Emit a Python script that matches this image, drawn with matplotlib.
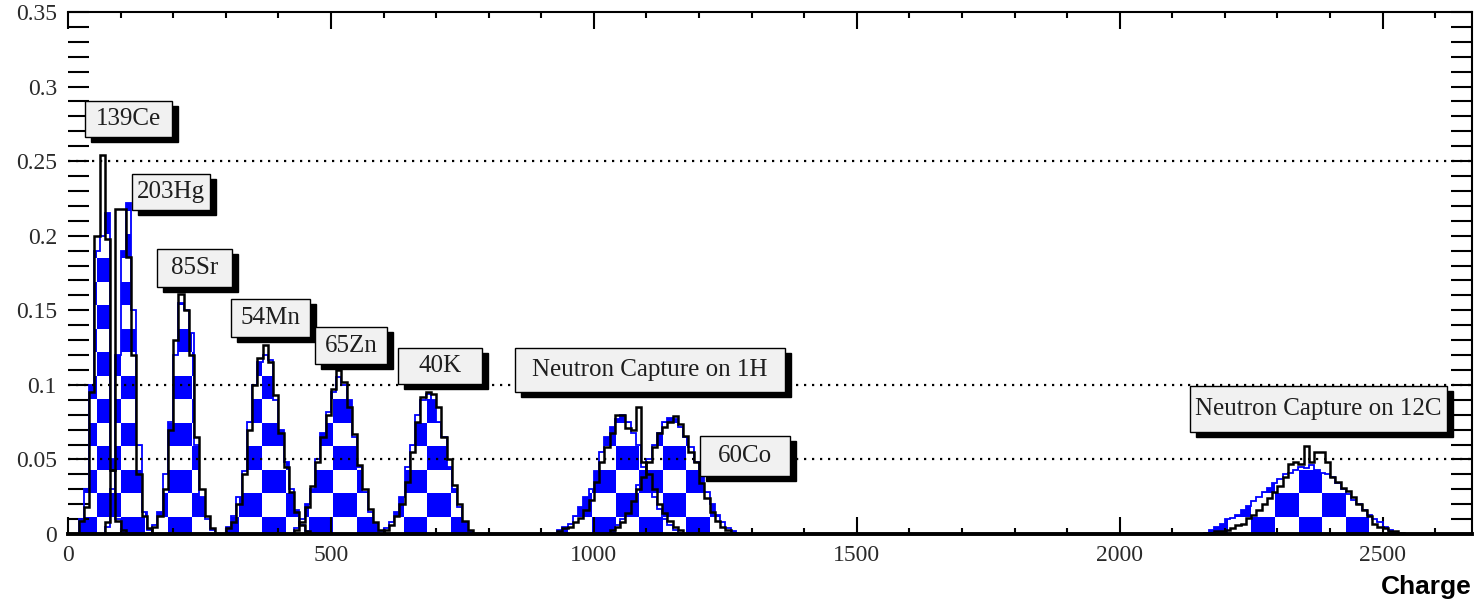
import numpy as np
import matplotlib
matplotlib.use("Agg")
import matplotlib.pyplot as plt
from matplotlib.patches import Rectangle
from matplotlib import transforms
from matplotlib.ticker import MultipleLocator

# ---------------------------------------------------------------------------
# Charge spectra (10 charge units per bin). For every source: first bin edge,
# the reference spectrum (checkered fill) and the measured spectrum (black).
# ---------------------------------------------------------------------------
BIN = 10

ce139_start = 20
ce139_fill = [0.010, 0.030, 0.100, 0.190, 0.200, 0.215, 0.050, 0.010, 0.003]
ce139_line = [0.009, 0.018, 0.095, 0.200, 0.254, 0.198, 0.043, 0.009, 0.003]

hg203_start = 70
hg203_fill = [0.005, 0.030, 0.120, 0.190, 0.222, 0.150, 0.060, 0.015, 0.003]
hg203_line = [0.008, 0.043, 0.218, 0.218, 0.186, 0.120, 0.040, 0.012, 0.004]

sr85_start = 160
sr85_fill = [0.006, 0.015, 0.040, 0.075, 0.120, 0.155, 0.150, 0.135, 0.060, 0.025, 0.010, 0.003]
sr85_line = [0.005, 0.012, 0.030, 0.070, 0.130, 0.161, 0.150, 0.120, 0.065, 0.030, 0.012, 0.004]

mn54_start = 300
mn54_fill = [0.005, 0.012, 0.025, 0.042, 0.075, 0.100, 0.115, 0.120, 0.117, 0.090, 0.070, 0.048,
             0.030, 0.016, 0.006, 0.002]
mn54_line = [0.004, 0.008, 0.020, 0.040, 0.070, 0.100, 0.118, 0.127, 0.115, 0.093, 0.068, 0.045,
             0.028, 0.015, 0.006, 0.002]

zn65_start = 430
zn65_fill = [0.004, 0.010, 0.020, 0.030, 0.050, 0.068, 0.082, 0.095, 0.105, 0.100, 0.090, 0.065,
             0.045, 0.028, 0.015, 0.007, 0.002]
zn65_line = [0.003, 0.008, 0.018, 0.032, 0.048, 0.065, 0.080, 0.097, 0.110, 0.102, 0.085, 0.067,
             0.046, 0.030, 0.017, 0.008, 0.003]

k40_start = 600
k40_fill = [0.004, 0.008, 0.015, 0.025, 0.045, 0.060, 0.080, 0.090, 0.094, 0.090, 0.075, 0.065,
            0.045, 0.030, 0.018, 0.008, 0.002]
k40_line = [0.003, 0.006, 0.012, 0.020, 0.035, 0.055, 0.075, 0.092, 0.095, 0.094, 0.085, 0.065,
            0.050, 0.033, 0.020, 0.009, 0.003]

nh_start = 930
nh_fill = [0.003, 0.005, 0.007, 0.012, 0.018, 0.025, 0.030, 0.042, 0.055, 0.065, 0.072, 0.077,
           0.080, 0.075, 0.068, 0.060, 0.045, 0.035, 0.025, 0.017, 0.010, 0.006, 0.003, 0.001]
nh_line = [0.002, 0.004, 0.005, 0.008, 0.011, 0.016, 0.023, 0.035, 0.048, 0.058, 0.068, 0.080,
           0.080, 0.071, 0.070, 0.085, 0.048, 0.040, 0.030, 0.020, 0.014, 0.009, 0.005, 0.003]

co60_start = 1030
co60_fill = [0.003, 0.006, 0.010, 0.017, 0.025, 0.033, 0.042, 0.050, 0.060, 0.068, 0.075, 0.078,
             0.077, 0.072, 0.065, 0.058, 0.048, 0.038, 0.028, 0.020, 0.013, 0.008, 0.004, 0.002]
co60_line = [0.003, 0.005, 0.008, 0.014, 0.022, 0.030, 0.038, 0.048, 0.058, 0.068, 0.072, 0.075,
             0.079, 0.074, 0.066, 0.055, 0.048, 0.034, 0.024, 0.015, 0.009, 0.005, 0.003, 0.001]

nc_start = 2160
nc_fill = [0.001, 0.003, 0.005, 0.007, 0.010, 0.011, 0.013, 0.016, 0.019, 0.022, 0.025, 0.028,
           0.031, 0.034, 0.037, 0.040, 0.041, 0.043, 0.045, 0.044, 0.046, 0.043, 0.041, 0.040,
           0.038, 0.034, 0.030, 0.027, 0.023, 0.020, 0.016, 0.013, 0.010, 0.008, 0.005, 0.003,
           0.001, 0.000]
nc_line = [0.001, 0.001, 0.002, 0.002, 0.003, 0.004, 0.006, 0.007, 0.011, 0.013, 0.016, 0.020,
           0.024, 0.028, 0.032, 0.038, 0.047, 0.048, 0.047, 0.059, 0.048, 0.055, 0.055, 0.048,
           0.038, 0.035, 0.031, 0.029, 0.025, 0.020, 0.016, 0.012, 0.007, 0.005, 0.004, 0.002,
           0.002, 0.001]

spectra = [
    (ce139_start, ce139_fill, ce139_line),
    (hg203_start, hg203_fill, hg203_line),
    (sr85_start, sr85_fill, sr85_line),
    (mn54_start, mn54_fill, mn54_line),
    (zn65_start, zn65_fill, zn65_line),
    (k40_start, k40_fill, k40_line),
    (nh_start, nh_fill, nh_line),
    (co60_start, co60_fill, co60_line),
    (nc_start, nc_fill, nc_line),
]

source_names = ["139Ce", "203Hg", "85Sr", "54Mn", "65Zn", "40K",
                "Neutron Capture on 1H", "60Co", "Neutron Capture on 12C"]

y_ticks = [0, 0.05, 0.1, 0.15, 0.2, 0.25, 0.3, 0.35]
y_tick_labels = ["0", "0.05", "0.1", "0.15", "0.2", "0.25", "0.3", "0.35"]
x_ticks = [0, 500, 1000, 1500, 2000, 2500]
x_tick_labels = ["0", "500", "1000", "1500", "2000", "2500"]
grid_levels = [0.05, 0.1, 0.25]

# ---------------------------------------------------------------------------
W, H, DPI = 1476, 605, 100
fig = plt.figure(figsize=(W / DPI, H / DPI), dpi=DPI, facecolor="white")
ax = fig.add_axes([68 / W, 71 / H, (1472 - 68) / W, (534 - 12) / H])

# Blue/white checkerboard in figure pixels, used as the histogram fill pattern
cell = 23.55
jj = np.arange(W) + 0.5
ii = np.arange(H) + 0.5
col = np.floor((jj - 333) / cell)
row = np.floor((517 - ii) / cell)
is_blue = ((col[None, :] + row[:, None]) % 2) == 0
checker = np.ones((H, W, 3))
checker[is_blue] = (0.0, 0.0, 1.0)

for start, fill_vals, line_vals in spectra:
    edges = start + BIN * np.arange(len(fill_vals) + 1)
    clip = ax.stairs(fill_vals, edges, fill=True, facecolor="none",
                     edgecolor="none", zorder=1)
    im = ax.imshow(checker, extent=(0, 1, 0, 1), transform=fig.transFigure,
                   interpolation="nearest", aspect="auto", zorder=1)
    im.set_clip_path(clip)
    ax.stairs(fill_vals, edges, color="#0000ff", linewidth=1.3, zorder=2)

for lvl in grid_levels:
    ax.axhline(lvl, color="black", linestyle=(0, (1, 2.6)), linewidth=1.6, zorder=2.5)

for start, fill_vals, line_vals in spectra:
    edges = start + BIN * np.arange(len(line_vals) + 1)
    ax.stairs(line_vals, edges, color="black", linewidth=1.8, zorder=3)

ax.set_xlim(0, 2670)
ax.set_ylim(0, 0.35)

# Axis frame and ticks
ax.spines["left"].set_visible(False)
ax.spines["top"].set_linewidth(1.5)
ax.spines["right"].set_linewidth(1.5)
ax.spines["bottom"].set_linewidth(2.8)
for sp in ax.spines.values():
    sp.set_zorder(6)

ax.set_yticks(y_ticks)
ax.set_yticklabels(y_tick_labels)
ax.set_xticks(x_ticks)
ax.set_xticklabels(x_tick_labels)
ax.yaxis.set_minor_locator(MultipleLocator(0.01))
ax.xaxis.set_minor_locator(MultipleLocator(100))
ax.tick_params(axis="y", which="both", direction="in", left=True, right=True,
               length=15, width=1.5, pad=8)
ax.tick_params(axis="x", which="major", direction="in", top=True, bottom=True,
               length=12, width=1.5, pad=8)
ax.tick_params(axis="x", which="minor", direction="in", top=True, bottom=True,
               length=4, width=1.5)
for lab in ax.get_xticklabels() + ax.get_yticklabels():
    lab.set_fontfamily("Liberation Serif")
    lab.set_fontsize(17)
    lab.set_color("#2a2a2a")

# Source labels: grey boxes with a dark drop shadow
label_boxes = [
    (32, 198, 0.2665, 0.290),
    (122, 270, 0.2174, 0.2416),
    (169, 312, 0.1655, 0.191),
    (310, 460, 0.132, 0.1575),
    (470, 606, 0.1137, 0.1386),
    (627, 787, 0.1003, 0.125),
    (850, 1363, 0.0955, 0.125),
    (1202, 1373, 0.039, 0.066),
    (2133, 2622, 0.0686, 0.099),
]
shadow_tr = transforms.offset_copy(ax.transData, fig=fig, x=6, y=-5, units="dots")
for name, (x0, x1, y0, y1) in zip(source_names, label_boxes):
    ax.add_patch(Rectangle((x0, y0), x1 - x0, y1 - y0, transform=shadow_tr,
                           facecolor="black", edgecolor="black", zorder=7))
    ax.add_patch(Rectangle((x0, y0), x1 - x0, y1 - y0, facecolor="#f1f1f1",
                           edgecolor="black", linewidth=1.0, zorder=8))
    ax.text((x0 + x1) / 2, (y0 + y1) / 2, name, ha="center", va="center",
            fontsize=18, family="Liberation Serif", color="#1e1e1e", zorder=9)

fig.text(1472 / W, 6 / H, "Charge", ha="right", va="bottom", fontsize=19,
         fontweight="bold", family="Liberation Sans", color="black")

fig.savefig("out.png", dpi=DPI, facecolor="white")
